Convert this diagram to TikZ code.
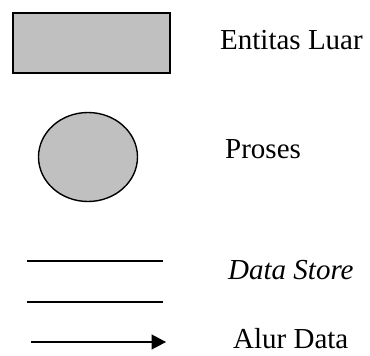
\documentclass[tikz,border=0pt]{standalone}
\usepackage{fontspec}
\setmainfont{Liberation Serif}
\usetikzlibrary{shapes.geometric,arrows.meta}
\tikzset{
  symfill/.style={fill={rgb,255:red,192;green,192;blue,192}, draw=black},
  legendtext/.style={anchor=base west, inner sep=0pt, font=\fontsize{29}{34}\selectfont},
  storeline/.style={draw=black, line width=1.3pt},
}
\begin{document}
\begin{tikzpicture}[x=1pt, y=-1pt]
  \useasboundingbox (0,0) rectangle (370,356);
  % external entity
  \node[symfill, line width=2pt, minimum width=157pt, minimum height=60pt, inner sep=0pt]
    (entity) at (91.5,42.5) {};
  % process
  \node[symfill, ellipse, line width=1.4pt, minimum width=99pt, minimum height=89pt, inner sep=0pt]
    (process) at (88,157) {};
  % data store
  \coordinate (s1a) at (27,261);
  \coordinate (s1b) at (163,261);
  \coordinate (s2a) at (27,302);
  \coordinate (s2b) at (163,302);
  \draw[storeline] (s1a) -- (s1b);
  \draw[storeline] (s2a) -- (s2b);
  % data flow
  \coordinate (fa) at (31,342);
  \coordinate (fb) at (166,342);
  \draw[line width=1.3pt, -{Triangle[length=14.5pt,width=15pt]}] (fa) -- (fb);
  % labels
  \node[legendtext] (lentity) at (220,49) {Entitas Luar};
  \node[legendtext] (lprocess) at (225,158) {Proses};
  \node[legendtext] (lstore) at (228,279) {\itshape Data Store};
  \node[legendtext] (lflow) at (233,348) {Alur Data};
\end{tikzpicture}
\end{document}
